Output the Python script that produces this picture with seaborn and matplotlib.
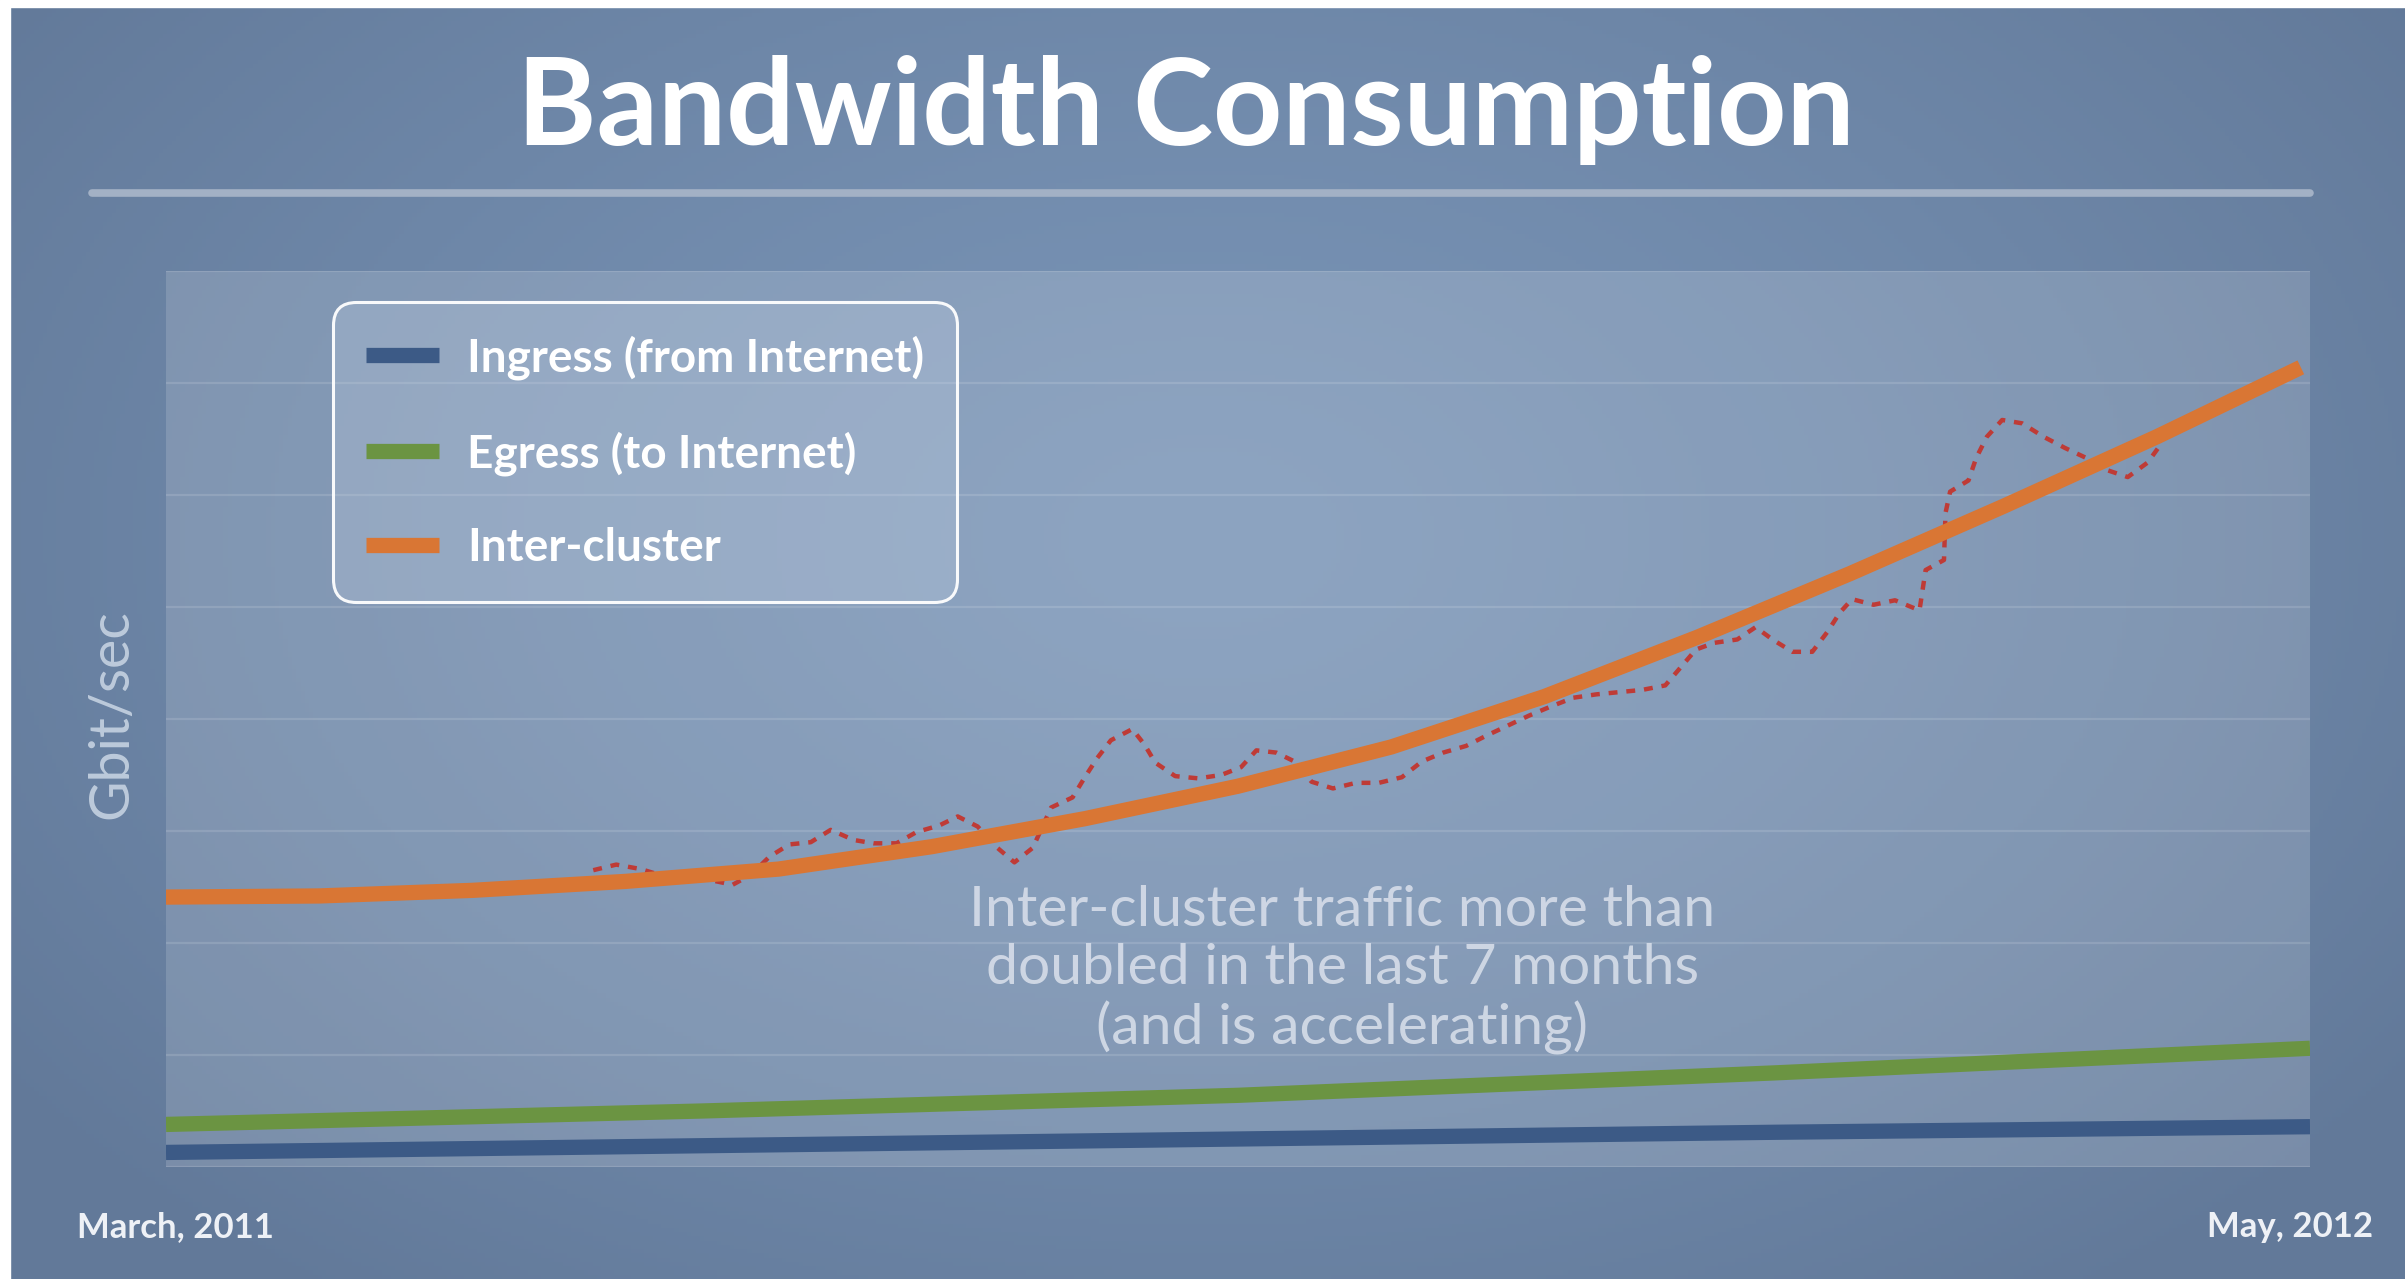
import numpy as np
import matplotlib
matplotlib.use('Agg')
import matplotlib.pyplot as plt
import seaborn as sns
from matplotlib.patches import Rectangle

# months since March 2011 (0) to May 2012 (14), values in Gbit/sec grid units
ingress_x = [0, 3.5, 7, 10.5, 14]
ingress_y = [0.13, 0.19, 0.25, 0.31, 0.36]

egress_x = [0, 3.5, 7, 10.5, 14]
egress_y = [0.38, 0.50, 0.64, 0.84, 1.06]

inter_x = [0, 1, 2, 3, 4, 5, 6, 7, 8, 9, 10, 11, 12, 13, 13.94]
inter_y = [2.41, 2.42, 2.47, 2.55, 2.66, 2.86, 3.11, 3.40, 3.75, 4.20, 4.73,
           5.30, 5.90, 6.52, 7.14]

# measured (noisy) inter-cluster traffic
raw_x = [2.79, 2.94, 3.10, 3.22, 3.56, 3.70, 3.82, 3.94, 4.07, 4.21, 4.34,
         4.49, 4.62, 4.77, 4.90, 5.05, 5.17, 5.30, 5.42, 5.54, 5.66, 5.78,
         5.92, 6.00, 6.08, 6.17, 6.31, 6.39, 6.46, 6.59, 6.74, 6.89, 7.02,
         7.12, 7.25, 7.37, 7.48, 7.62, 7.77, 7.92, 8.07, 8.20, 8.34, 8.49,
         8.62, 8.76, 8.90, 9.04, 9.19, 9.34, 9.49, 9.64, 9.79, 9.89, 9.99,
         10.11, 10.26, 10.38, 10.49, 10.62, 10.75, 10.85, 10.93, 11.01,
         11.15, 11.29, 11.45, 11.47, 11.49, 11.61, 11.62, 11.65, 11.77,
         11.82, 11.89, 11.99, 12.12, 12.26, 12.40, 12.54, 12.68, 12.81,
         12.94, 13.03]
raw_y = [2.65, 2.70, 2.66, 2.61, 2.56, 2.52, 2.61, 2.77, 2.88, 2.90, 3.01,
         2.92, 2.89, 2.89, 2.99, 3.05, 3.13, 3.04, 2.86, 2.72, 2.85, 3.21,
         3.30, 3.48, 3.65, 3.81, 3.91, 3.77, 3.61, 3.49, 3.47, 3.50, 3.57,
         3.72, 3.70, 3.62, 3.44, 3.38, 3.43, 3.43, 3.48, 3.62, 3.70, 3.76,
         3.85, 3.94, 4.03, 4.11, 4.19, 4.22, 4.24, 4.26, 4.30, 4.46, 4.62,
         4.68, 4.71, 4.82, 4.71, 4.60, 4.60, 4.78, 4.95, 5.07, 5.02, 5.06,
         4.97, 5.15, 5.33, 5.42, 5.84, 6.03, 6.13, 6.33, 6.52, 6.67, 6.64,
         6.52, 6.42, 6.33, 6.22, 6.16, 6.29, 6.46]

labels = ['Ingress (from Internet)', 'Egress (to Internet)', 'Inter-cluster']
colors = ['#3c5a86', '#6b9442', '#d97634']
raw_color = '#bf3b36'

sns.set_theme(style='white')
plt.rcParams['font.family'] = ['Lato', 'DejaVu Sans']

W, H = 2405, 1279
fig = plt.figure(figsize=(W / 100, H / 100), dpi=100)

# background gradient
bg = fig.add_axes([0, 0, 1, 1], zorder=-10)
yy, xx = np.mgrid[0:1:300j, 0:1:560j]
r = np.clip(np.sqrt(((xx - 0.5) / 0.62) ** 2 + ((yy - 0.42) / 0.75) ** 2), 0, 1)
c_in = np.array([0x79, 0x94, 0xb6]) / 255
c_out = np.array([0x62, 0x79, 0x99]) / 255
img = c_in + (c_out - c_in) * (r[..., None] ** 1.4)
bg.imshow(img, extent=[0, 1, 0, 1], aspect='auto', origin='upper')
bg.set_xlim(0, 1)
bg.set_ylim(0, 1)
bg.axis('off')
fig.patches.append(Rectangle((0, 1 - 7 / H), 1, 7 / H, transform=fig.transFigure,
                             color='white', zorder=5))
fig.patches.append(Rectangle((0, 0), 10 / W, 1, transform=fig.transFigure,
                             color='white', zorder=5))

# title and separator
fig.text(1186 / W, 1 - 145 / H, 'Bandwidth Consumption', ha='center', va='baseline',
         fontsize=87, fontweight='bold', color='white')
fig.add_artist(plt.Line2D([92 / W, 2310 / W], [1 - 193 / H, 1 - 193 / H],
                          transform=fig.transFigure, color='#a3b1c5', lw=5.5))

ax = fig.add_axes([166 / W, 1 - 1167 / H, 2144 / W, 896 / H])
ax.set_facecolor((1, 1, 1, 0.15))
for s in ax.spines.values():
    s.set_visible(False)
ax.set_xlim(0, 14)
ax.set_ylim(0, 8)
ax.set_yticks(range(9))
ax.set_xticks([])
ax.tick_params(left=False, labelleft=False)
ax.grid(axis='y', color='white', alpha=0.13, lw=1.6)
ax.set_axisbelow(True)

sns.lineplot(x=raw_x, y=raw_y, ax=ax, color=raw_color, lw=3.2,
             linestyle=(0, (2.0, 2.0)), zorder=2)
sns.lineplot(x=ingress_x, y=ingress_y, ax=ax, color=colors[0], lw=11,
             solid_capstyle='butt', label=labels[0], zorder=3)
sns.lineplot(x=egress_x, y=egress_y, ax=ax, color=colors[1], lw=11,
             solid_capstyle='butt', label=labels[1], zorder=3)
sns.lineplot(x=inter_x, y=inter_y, ax=ax, color=colors[2], lw=11,
             solid_capstyle='butt', label=labels[2], zorder=4)

leg = ax.legend(loc='upper left', bbox_to_anchor=((333 - 166) / 2144, (1167 - 302) / 896),
                borderaxespad=0, frameon=True, fancybox=True,
                handlelength=1.6, handletextpad=0.6, labelspacing=1.12,
                borderpad=0.72, prop={'weight': 'bold', 'size': 33})
frame = leg.get_frame()
frame.set_alpha(None)
frame.set_facecolor((0.80, 0.85, 0.92, 0.24))
frame.set_edgecolor((1, 1, 1, 0.95))
frame.set_linewidth(2.2)
frame.set_boxstyle('round,pad=0,rounding_size=0.5')
for t in leg.get_texts():
    t.set_color('white')

fig.text(112 / W, 1 - 714 / H, 'Gbit/sec', rotation=90, ha='center', va='center',
         fontsize=40, color='#bccadb')

ax.text(7.68, 1.76, 'Inter-cluster traffic more than\ndoubled in the last 7 months\n(and is accelerating)',
        ha='center', va='center', fontsize=41, color='#dbe1ec', alpha=0.85,
        linespacing=1.17)

fig.text(77 / W, 1 - 1227 / H, 'March, 2011', ha='left', va='center',
         fontsize=25, fontweight='bold', color='#eef1f6')
fig.text(2373 / W, 1 - 1227 / H, 'May, 2012', ha='right', va='center',
         fontsize=25, fontweight='bold', color='#eef1f6')

fig.savefig('out.png', dpi=100)
